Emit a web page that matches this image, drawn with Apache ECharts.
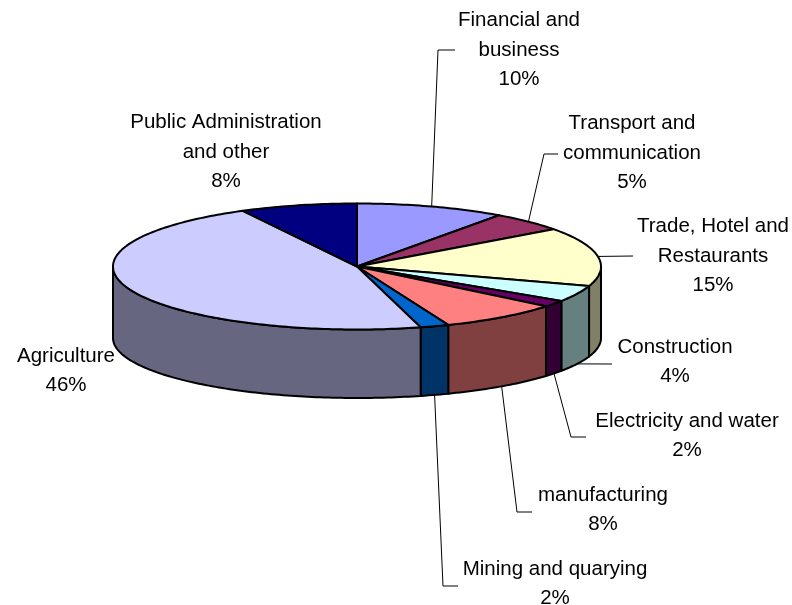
<!DOCTYPE html>
<html>
<head>
<meta charset="utf-8">
<style>html,body{margin:0;padding:0;background:#fff}#chart{width:792px;height:605px}</style>
<script src="https://cdn.jsdelivr.net/npm/echarts@6/dist/echarts.min.js"></script>
</head>
<body>
<div id="chart"></div>
<script>
const categories = ['Financial and\nbusiness','Transport and\ncommunication','Trade, Hotel and\nRestaurants','Construction','Electricity and water','manufacturing','Mining and quarying','Agriculture','Public Administration\nand other'];
const shares = [9.9, 5.0, 15.1, 4.2, 1.7, 8.0, 1.9, 46.45, 7.75];
const topColors = ['#9999FF','#993366','#FFFFCC','#CCFFFF','#660066','#FF8080','#0066CC','#CCCCFF','#000080'];
const wallColors = ['#4C4C80','#4C1933','#808066','#668080','#330033','#804040','#003366','#666680','#000040'];

// layout of the tilted disc
const CX = 357, CY = 266.5, RX = 244, RY = 63, BOTTOM_CY = 338, BOTTOM_RY = 60;
// label centres and leader elbows (null = no leader; rim 'top' or 'bottom')
const labelLayout = [
  {x:519, y:50,  rim:'top',    via:[[438,50],[455,50]]},
  {x:632, y:153, rim:'top',    via:[[544,154],[558,154]]},
  {x:713, y:256, rim:'top',    via:[[633,256]]},
  {x:675, y:362, rim:'bottom', via:[[612,364]]},
  {x:687, y:436, rim:'bottom', via:[[571,437],[586,437]]},
  {x:603, y:510, rim:'bottom', via:[[517,512],[532,512]]},
  {x:555, y:584, rim:'bottom', via:[[443,586],[458,586]]},
  {x:66,  y:371, rim:null},
  {x:226, y:152, rim:null}
];

const total = shares.reduce((a, b) => a + b, 0);
const bounds = [0];
shares.forEach(v => bounds.push(bounds[bounds.length - 1] + v / total * 360));
const rad = d => d * Math.PI / 180;
const topPt = d => [CX + RX * Math.sin(rad(d)), CY - RY * Math.cos(rad(d))];
const botPt = d => [CX + RX * Math.sin(rad(d)), BOTTOM_CY - BOTTOM_RY * Math.cos(rad(d))];
function arc(a0, a1, fn) {
  const pts = [], n = Math.max(2, Math.ceil(Math.abs(a1 - a0)));
  for (let i = 0; i <= n; i++) pts.push(fn(a0 + (a1 - a0) * i / n));
  return pts;
}
const edge = {stroke:'#000', lineWidth:2, lineJoin:'round'};

function renderWall(params) {
  const i = params.dataIndex;
  const a0 = Math.max(bounds[i], 90), a1 = Math.min(bounds[i + 1], 270);
  if (a1 <= a0) return {type:'group', children:[]};
  return {type:'polygon', silent:true,
    shape:{points: arc(a0, a1, topPt).concat(arc(a1, a0, botPt))},
    style:Object.assign({fill:wallColors[i]}, edge)};
}
function renderTop(params) {
  const i = params.dataIndex;
  return {type:'polygon', silent:true,
    shape:{points: [[CX, CY]].concat(arc(bounds[i], bounds[i + 1], topPt))},
    style:Object.assign({fill:topColors[i]}, edge)};
}
function renderLabel(params, api) {
  const i = params.dataIndex, lay = labelLayout[i];
  const children = [];
  if (lay.rim) {
    const mid = (bounds[i] + bounds[i + 1]) / 2;
    const start = (lay.rim === 'top' ? topPt : botPt)(mid);
    children.push({type:'polyline', silent:true, shape:{points:[start].concat(lay.via)},
      style:{stroke:'#000', lineWidth:1, fill:null}});
  }
  children.push({type:'text', silent:true, style:{
    text: categories[i] + '\n' + Math.round(api.value(0)) + '%',
    x: lay.x, y: lay.y, align:'center', verticalAlign:'middle',
    fontFamily:'"Liberation Sans", Arial, sans-serif', fontSize:20.5, lineHeight:29.4, fill:'#000'
  }});
  return {type:'group', children};
}
const seriesData = shares.map(v => [v]);
const chart = echarts.init(document.getElementById('chart'), null, {renderer:'canvas'});
chart.setOption({
  animation:false,
  backgroundColor:'#fff',
  series:[
    {type:'custom', coordinateSystem:'none', renderItem:renderWall, data:seriesData, z:1},
    {type:'custom', coordinateSystem:'none', renderItem:renderTop, data:seriesData, z:2},
    {type:'custom', coordinateSystem:'none', renderItem:renderLabel, data:seriesData, z:3}
  ]
});
</script>
</body>
</html>
